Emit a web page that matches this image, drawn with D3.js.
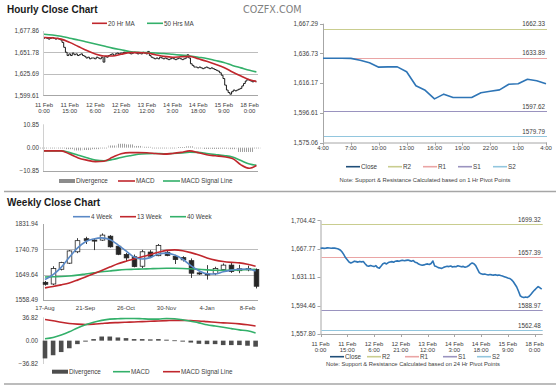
<!DOCTYPE html>
<html>
<head>
<meta charset="utf-8">
<script src="https://cdn.jsdelivr.net/npm/d3@7"></script>
<style>
  body { margin: 0; background: #fff; }
  svg { display: block; font-family: "Liberation Sans", Arial, sans-serif; }
</style>
</head>
<body>
<div id="chart"></div>
<script>
// ---- hourly close chart (top left) ----
const hourLabels = [["11 Feb","0:00"],["11 Feb","15:00"],["12 Feb","6:00"],["12 Feb","21:00"],["13 Feb","12:00"],["14 Feb","3:00"],["14 Feb","18:00"],["15 Feb","9:00"],["18 Feb","0:00"]];
const hourTicks = [1599.61, 1625.69, 1651.78, 1677.86];
const hourlyClose = [
  1669,1670,1669,1668,1669,1670,1669,1668,1669,1668,1667,
  1664,1658,1652,1648,
  1650,1648,1651,1649,1650,1648,1649,1650,1648,1647,
  1645,1646,1644,1645,1645,1644,1646,1645,1644,
  1646,1640,1647,1646,1648,
  1649,1650,1648,1650,1651,1650,1651,
  1651,1652,1651,1652,1651,1650,1651,1652,1651,1650,
  1651,1650,1652,1651,1650,1653,
  1648,1646,1645,1644,1645,1644,1646,1645,1644,
  1645,1644,1643,1644,1645,1644,1643,1644,1645,1644,1643,1644,1645,1649,
  1645,1638,1636,1634,
  1634,1633,1634,1633,1632,1633,1634,1633,1632,1633,1632,1631,1630,1629,
  1627,1624,1620,1612,1606,1603,1601,1604,
  1606,1605,1606,1607,1608,
  1611,1614,1617,1619,1618,1617,1616,1617,1616
];
const maHours = [0,5,10,15,20,25,30,35,40,45,50,55,60,65,70,75,80,85,90,95,100,105,110,115,120,124];
const ma20 = [1670,1669.5,1668,1664,1659,1654,1650,1647.5,1647.5,1649.5,1651.5,1651.5,1651,1649,1647,1646,1646.5,1647,1644,1641,1637.5,1633.5,1628,1623,1618.5,1616.5];
const ma50 = [1674,1673,1671.5,1669,1667,1664.5,1662,1659.5,1657,1655,1653,1652,1651.5,1651,1650.5,1649.5,1648.5,1647.5,1646,1644.5,1642,1639.5,1636,1633,1630,1628];
const hMacdTicks = [-10.85, 0, 10.85];
const hMacd = [-1.5,-1.5,-1.5,-3.0,-4.8,-5.8,-6.5,-6.3,-4.5,-2.8,-2.3,-2.3,-2.4,-2.7,-3.0,-2.7,-2.2,-1.5,-2.3,-3.3,-3.8,-4.2,-5.0,-8.0,-9.6,-8.3];
const hSignal = [-1.5,-1.5,-1.5,-2.3,-3.5,-4.7,-5.8,-6.1,-5.5,-4.6,-3.8,-3.1,-2.8,-2.7,-2.8,-2.7,-2.5,-2.1,-2.2,-2.7,-3.2,-3.7,-4.3,-6.0,-7.6,-8.2];
const hDiv = [0,0,0,-0.7,-1.3,-1.1,-0.7,-0.2,1.0,1.8,1.5,0.8,0.4,0,-0.2,0,0.3,0.6,-0.1,-0.6,-0.6,-0.5,-0.7,-2.0,-2.0,-0.1];

// ---- 1 hr pivot chart (top right) ----
const pivot1Labels = ["4:00","7:00","10:00","13:00","16:00","19:00","22:00","1:00","4:00"];
const pivot1Ticks = [1575.06, 1596.61, 1616.17, 1636.73, 1667.29];
const pivot1Close = [1633.4,1633.4,1633.4,1633.3,1632.0,1630.2,1627.2,1627.4,1627.4,1624.0,1614.4,1611.4,1605.8,1608.9,1606.7,1606.7,1606.7,1609.8,1610.8,1611.7,1615.4,1615.7,1618.8,1617.8,1615.7];
const pivot1Levels = [1662.33, 1633.89, 1597.62, 1579.79];

// ---- 24 hr pivot chart (bottom right) ----
const pivot24Ticks = [1557.80, 1594.46, 1631.11, 1667.77, 1704.42];
const pivot24Close = [
  1668.5,1668.8,1668.3,1668.6,1669.0,1668.7,1668.4,1668.9,1668.6,1668.2,
  1667.5,1666.3,1664.0,1660.5,1656.5,
  1653.6,1650.8,1649.5,1650.5,1651.8,
  1651.2,1650.6,1651.5,1650.9,1651.3,
  1648.5,1646.0,1645.2,1646.3,1645.5,
  1644.8,1646.0,1643.5,1642.8,1645.5,
  1648.5,1649.5,1648.2,1650.0,1650.8,
  1651.2,1650.5,1651.8,1652.2,1651.6,
  1652.5,1653.0,1652.3,1652.8,1653.2,
  1652.5,1651.8,1652.6,1650.5,1649.8,
  1648.0,1647.2,1646.5,1647.0,1647.8,
  1648.3,1647.5,1648.8,1652.0,1645.5,
  1644.8,1643.5,1643.0,1642.5,1643.8,
  1644.5,1645.2,1644.8,1645.5,1644.2,
  1645.0,1644.6,1645.8,1645.2,1644.5,
  1645.1,1644.0,1644.6,1645.8,1648.0,
  1649.5,1648.5,1646.0,1641.5,1637.0,
  1635.5,1634.8,1635.2,1634.5,1634.0,
  1634.6,1634.1,1633.8,1634.4,1633.5,
  1634.0,1633.2,1632.6,1631.8,1631.0,
  1630.2,1629.5,1628.0,1625.5,1622.0,
  1618.5,1613.0,1607.0,1605.5,1604.8,
  1605.6,1605.0,1606.5,1609.0,1612.0,
  1614.5,1616.8,1619.0,1617.5,1615.6
];
const pivot24Levels = [1699.32, 1657.39, 1588.97, 1562.48];
const levelNames = ["R2", "R1", "S1", "S2"];

// ---- weekly close chart (bottom left) ----
const weeks = ["17-Aug","24-Aug","31-Aug","7-Sep","14-Sep","21-Sep","28-Sep","5-Oct","12-Oct","19-Oct","26-Oct","2-Nov","9-Nov","16-Nov","23-Nov","30-Nov","7-Dec","14-Dec","21-Dec","28-Dec","4-Jan","11-Jan","18-Jan","25-Jan","1-Feb","8-Feb","15-Feb"];
const weekTicks = [1558.49, 1649.64, 1740.79, 1831.94];
const wOpen  = [1622,1616,1669,1691,1732,1779,1774,1774,1788,1752,1722,1714,1680,1731,1718,1730,1715,1711,1700,1656,1652,1654,1668,1684,1664,1667,1668];
const wHigh  = [1627,1680,1696,1738,1781,1786,1781,1798,1792,1756,1728,1722,1739,1738,1760,1738,1721,1716,1708,1658,1684,1678,1690,1692,1685,1682,1672];
const wLow   = [1610,1612,1665,1688,1727,1760,1738,1771,1747,1720,1697,1676,1673,1712,1716,1716,1688,1697,1638,1649,1632,1648,1664,1656,1655,1662,1600];
const wClose = [1615,1672,1693,1735,1772,1773,1771,1792,1750,1723,1710,1679,1732,1716,1755,1719,1704,1703,1655,1652,1650,1672,1684,1661,1671,1672,1608];
const ma4  = [1632,1650,1676,1712,1745,1768,1778,1782,1776,1757,1735,1713,1706,1711,1724,1727,1720,1705,1682,1664,1653,1652,1660,1666,1669,1670,1663];
const ma13 = [1602,1607,1613,1620,1630,1641,1653,1665,1677,1689,1698,1706,1714,1722,1730,1737,1739,1736,1729,1720,1710,1702,1697,1694,1692,1687,1680];
const ma40 = [1641,1642,1643,1645,1648,1652,1656,1660,1663,1666,1668,1669,1670,1671,1672,1672.5,1672.5,1672,1671,1669,1667,1665.5,1665,1666,1667,1668,1669];
const wMacdTicks = [-36.82, 0, 36.82];
const wMacd   = [3,5,9,14,20,25,29,32,34,34.5,35,35,34.5,34,34,35,34.5,33,30.5,28,25,23,21,19,17,15.5,12];
const wSignal = [33.5,31.5,29,27,26,25.5,26,27,28,28.5,29,29.5,30,30.5,31,31.5,32,32,31.5,31,30,29,28,27.5,26.5,25,23];
const wDiv = [-28,-23,-18,-12,-5.5,-1.5,2.5,6.5,6.5,5,4,2.5,2.5,2,2.5,1.5,0.5,-1.5,-3,-5,-5.5,-5.5,-7,-7,-7,-8,-9.5];

const RED = '#c0272d', GREEN = '#33b06a', BLUE = '#5a89c6', CLOSE = '#2e75b6';
const LEVEL_COLORS = ['#c9cd8f', '#eaa5a5', '#9a93bf', '#92c6de'];
const TXT = '#404040', GRID = '#bdbdbd', AXIS = '#a6a6a6';

const svg = d3.select('#chart').append('svg')
    .attr('width', 560)
    .attr('height', 386);

// thin vertical stripes for the hourly divergence bars
const stripes = svg.append('defs').append('pattern')
    .attr('id', 'stripes')
    .attr('patternUnits', 'userSpaceOnUse')
    .attr('width', 2).attr('height', 4);
stripes.append('rect').attr('width', 1).attr('height', 4).attr('fill', '#a0a0a0');

function text(x, y, s, opts = {}) {
    return svg.append('text')
        .attr('x', x).attr('y', y)
        .attr('dy', '0.35em')
        .attr('text-anchor', opts.anchor || 'start')
        .style('font-size', (opts.size || 6.3) + 'px')
        .style('font-weight', opts.bold ? 'bold' : 'normal')
        .style('fill', opts.color || TXT)
        .style('font-family', opts.family || null)
        .text(s);
}

function legend(items, y) {
    items.forEach(it => {
        if (it.bar) {
            svg.append('rect').attr('x', it.x).attr('y', y - 2).attr('width', it.w).attr('height', 4).attr('fill', it.color);
        } else {
            svg.append('line').attr('x1', it.x).attr('x2', it.x + it.w).attr('y1', y).attr('y2', y)
                .attr('stroke', it.color).attr('stroke-width', 1.6);
        }
        text(it.x + it.w + 1, y, it.name, { size: 6.3 });
    });
}

function yAxisLabels(scale, ticks, x, fmt) {
    ticks.forEach(t => text(x, scale(t), fmt(t), { anchor: 'end' }));
}

function gridLines(scale, ticks, x1, x2) {
    svg.append('g').selectAll('line').data(ticks).enter().append('line')
        .attr('x1', x1).attr('x2', x2)
        .attr('y1', d => Math.round(scale(d)) + 0.5).attr('y2', d => Math.round(scale(d)) + 0.5)
        .attr('stroke', GRID).attr('stroke-width', 1);
}

function hline(y, x1, x2, color, w) {
    svg.append('line').attr('x1', x1).attr('x2', x2).attr('y1', y).attr('y2', y)
        .attr('stroke', color).attr('stroke-width', w || 1);
}
function vline(x, y1, y2, color, w) {
    svg.append('line').attr('x1', x).attr('x2', x).attr('y1', y1).attr('y2', y2)
        .attr('stroke', color).attr('stroke-width', w || 1);
}

const comma = d3.format(',.2f');
const plain = d3.format('.2f');

// titles and separators
text(7, 9.5, 'Hourly Close Chart', { size: 10, bold: true, color: '#1a1a1a' });
text(243, 9.5, 'COZFX.COM', { size: 9.6, color: '#808080', family: '"DejaVu Sans", Verdana, sans-serif' });
hline(191.5, 4, 556, '#a6a6a6', 1.5);
hline(384, 4, 556, '#a6a6a6', 1.5);
text(7, 202.5, 'Weekly Close Chart', { size: 10, bold: true, color: '#1a1a1a' });

// ================= hourly close chart =================
const hx = d3.scaleLinear().domain([0, 124]).range([44, 256.4]);
const hy = d3.scaleLinear().domain([1599.61, 1677.86]).range([95.3, 31]);

gridLines(hy, hourTicks.slice(1, 3), 43, 258);
hline(Math.round(hy(hourTicks[0])) + 0.5, 43, 258, AXIS);
vline(43.5, hy(hourTicks[3]), hy(hourTicks[0]), '#d0d0d0');
yAxisLabels(hy, hourTicks, 39, comma);
hourLabels.forEach((l, k) => {
    text(hx(k * 15), 105, l[0], { anchor: 'middle', size: 6 });
    text(hx(k * 15), 111, l[1], { anchor: 'middle', size: 6 });
});

svg.append('path')
    .datum(hourlyClose)
    .attr('d', d3.line().x((d, i) => hx(i)).y(d => hy(d)).curve(d3.curveStep))
    .attr('fill', 'none').attr('stroke', '#1a1a1a').attr('stroke-width', 1);

[[ma50, GREEN], [ma20, RED]].forEach(([arr, c]) => {
    svg.append('path').datum(arr)
        .attr('d', d3.line().x((d, i) => hx(maHours[i])).y(d => hy(d)).curve(d3.curveMonotoneX))
        .attr('fill', 'none').attr('stroke', c).attr('stroke-width', 1.6);
});
legend([{ x: 92, w: 15, color: RED, name: '20 Hr MA' }, { x: 147, w: 16, color: GREEN, name: '50 Hrs MA' }], 23.3);

// hourly MACD
const hmy = d3.scaleLinear().domain([-10.85, 10.85]).range([171, 124.3]);
hline(171.5, 43, 258, AXIS);
vline(43.5, 124.3, 171, '#d0d0d0');
yAxisLabels(hmy, hMacdTicks, 39, plain);
svg.append('g').selectAll('rect').data(hDiv).enter().append('rect')
    .attr('x', (d, i) => hx(maHours[i]) - 4)
    .attr('width', 8)
    .attr('y', d => Math.min(hmy(d), hmy(0)))
    .attr('height', d => Math.max(0.8, Math.abs(hmy(d) - hmy(0))))
    .attr('fill', 'url(#stripes)');
[[hSignal, GREEN], [hMacd, RED]].forEach(([arr, c]) => {
    svg.append('path').datum(arr)
        .attr('d', d3.line().x((d, i) => hx(maHours[i])).y(d => hmy(d)).curve(d3.curveMonotoneX))
        .attr('fill', 'none').attr('stroke', c).attr('stroke-width', 1.6);
});
legend([
    { x: 59, w: 16, color: '#8c8c8c', name: 'Divergence', bar: true },
    { x: 118, w: 17, color: RED, name: 'MACD' },
    { x: 163, w: 17, color: GREEN, name: 'MACD Signal Line' }
], 181);

// ================= pivot charts (right side) =================
function pivotChart(cfg) {
    const x = d3.scaleLinear().domain([0, cfg.close.length - 1]).range([cfg.x0, cfg.x1]);
    const y = d3.scaleLinear().domain(cfg.ticks).range(cfg.ticks.map((t, k) => cfg.yBottom - k * cfg.step));
    const yTop = y(cfg.ticks[cfg.ticks.length - 1]);

    vline(cfg.x0 + 0.5, yTop, cfg.yBottom, AXIS);
    hline(cfg.yBottom + 0.5, cfg.x0, cfg.x1 + 1, AXIS);
    cfg.ticks.forEach(t => {
        hline(Math.round(y(t)) + 0.5, cfg.x0 - 3, cfg.x0, AXIS);
        text(cfg.x0 - 5, y(t), comma(t), { anchor: 'end' });
    });
    cfg.xLabels.forEach((l, k) => {
        const xx = x(k * cfg.labelStep);
        vline(Math.round(xx) + 0.5, cfg.yBottom, cfg.yBottom + 3, AXIS);
        if (Array.isArray(l)) {
            text(xx, cfg.yBottom + 9.5, l[0], { anchor: 'middle', size: 6 });
            text(xx, cfg.yBottom + 15.5, l[1], { anchor: 'middle', size: 6 });
        } else {
            text(xx, cfg.yBottom + 5, l, { anchor: 'middle', size: 6 });
        }
    });

    cfg.levels.forEach((lv, k) => {
        hline(Math.round(y(lv)) + 0.5, cfg.x0 + 1, cfg.x1 + 1, LEVEL_COLORS[k], 1.2);
        text(cfg.x1 - 1, y(lv) - 4.5, lv.toFixed(2), { anchor: 'end', size: 6.3 });
    });

    svg.append('path').datum(cfg.close)
        .attr('d', d3.line().x((d, i) => x(i)).y(d => y(d)))
        .attr('fill', 'none').attr('stroke', CLOSE).attr('stroke-width', 1.6)
        .attr('stroke-linejoin', 'round');

    const lx = cfg.legendX;
    legend([
        { x: lx[0], w: 14, color: '#1f4e79', name: 'Close' },
        ...levelNames.map((n, k) => ({ x: lx[k + 1], w: 14, color: LEVEL_COLORS[k], name: n }))
    ], cfg.legendY);
    text(cfg.noteX, cfg.legendY + cfg.noteGap, cfg.note, { anchor: 'middle', size: 5.8 });
}

pivotChart({
    close: pivot1Close, ticks: pivot1Ticks, levels: pivot1Levels,
    x0: 323, x1: 546, yBottom: 142.5, step: 29.7,
    xLabels: pivot1Labels, labelStep: 3,
    legendX: [346, 388, 423, 458, 493], legendY: 166.7,
    noteX: 425, noteGap: 13.3,
    note: 'Note: Support & Resistance Calculated based on 1 Hr Pivot Points'
});

pivotChart({
    close: pivot24Close, ticks: pivot24Ticks, levels: pivot24Levels,
    x0: 320.5, x1: 541.7, yBottom: 334, step: 28.4,
    xLabels: hourLabels, labelStep: 15,
    legendX: [330, 367, 405, 443, 477], legendY: 356.7,
    noteX: 413, noteGap: 7.5,
    note: 'Note: Support & Resistance Calculated based on 24 Hr Pivot Points'
});

// ================= weekly close chart =================
const wx = d3.scaleLinear().domain([0, weeks.length - 1]).range([45, 255.6]);
const wy = d3.scaleLinear().domain([1558.49, 1831.94]).range([300, 224]);

gridLines(wy, weekTicks.slice(1, 3), 43, 258);
hline(300.5, 43, 258, AXIS);
vline(43.5, 224, 300, AXIS);
yAxisLabels(wy, weekTicks, 38, plain);
weeks.forEach((w, i) => {
    if (i % 5 === 0) text(wx(i), 308.3, w, { anchor: 'middle', size: 6 });
});

const candles = svg.append('g').selectAll('g').data(weeks).enter().append('g');
candles.append('line')
    .attr('x1', (d, i) => Math.round(wx(i)) + 0.5).attr('x2', (d, i) => Math.round(wx(i)) + 0.5)
    .attr('y1', (d, i) => wy(wHigh[i])).attr('y2', (d, i) => wy(wLow[i]))
    .attr('stroke', '#262626').attr('stroke-width', 0.9);
candles.append('rect')
    .attr('x', (d, i) => Math.round(wx(i)) - 1.8)
    .attr('width', 4.6)
    .attr('y', (d, i) => wy(Math.max(wOpen[i], wClose[i])))
    .attr('height', (d, i) => Math.max(1, Math.abs(wy(wOpen[i]) - wy(wClose[i]))))
    .attr('fill', (d, i) => wClose[i] >= wOpen[i] ? '#fff' : '#262626')
    .attr('stroke', '#262626').attr('stroke-width', 0.8);

[[ma40, GREEN], [ma13, RED], [ma4, BLUE]].forEach(([arr, c]) => {
    svg.append('path').datum(arr)
        .attr('d', d3.line().x((d, i) => wx(i)).y(d => wy(d)).curve(d3.curveMonotoneX))
        .attr('fill', 'none').attr('stroke', c).attr('stroke-width', 1.6);
});
legend([
    { x: 73, w: 17, color: BLUE, name: '4 Week' },
    { x: 120, w: 16, color: RED, name: '13 Week' },
    { x: 170, w: 16, color: GREEN, name: '40 Week' }
], 216.7);

// weekly MACD
const wmy = d3.scaleLinear().domain([-36.82, 36.82]).range([364, 317.3]);
vline(43.5, 317.3, 364, '#d0d0d0');
yAxisLabels(wmy, wMacdTicks, 38, plain);
svg.append('g').selectAll('rect').data(wDiv).enter().append('rect')
    .attr('x', (d, i) => wx(i) - 2.3)
    .attr('width', 4.6)
    .attr('y', d => Math.min(wmy(d), wmy(0)))
    .attr('height', d => Math.max(0.8, Math.abs(wmy(d) - wmy(0))))
    .attr('fill', '#4d4d4d');
[[wSignal, RED], [wMacd, GREEN]].forEach(([arr, c]) => {
    svg.append('path').datum(arr)
        .attr('d', d3.line().x((d, i) => wx(i)).y(d => wmy(d)).curve(d3.curveMonotoneX))
        .attr('fill', 'none').attr('stroke', c).attr('stroke-width', 1.6);
});
legend([
    { x: 52, w: 16, color: '#4d4d4d', name: 'Divergence', bar: true },
    { x: 113, w: 17, color: GREEN, name: 'MACD' },
    { x: 163, w: 17, color: RED, name: 'MACD Signal Line' }
], 371.7);
</script>
</body>
</html>
